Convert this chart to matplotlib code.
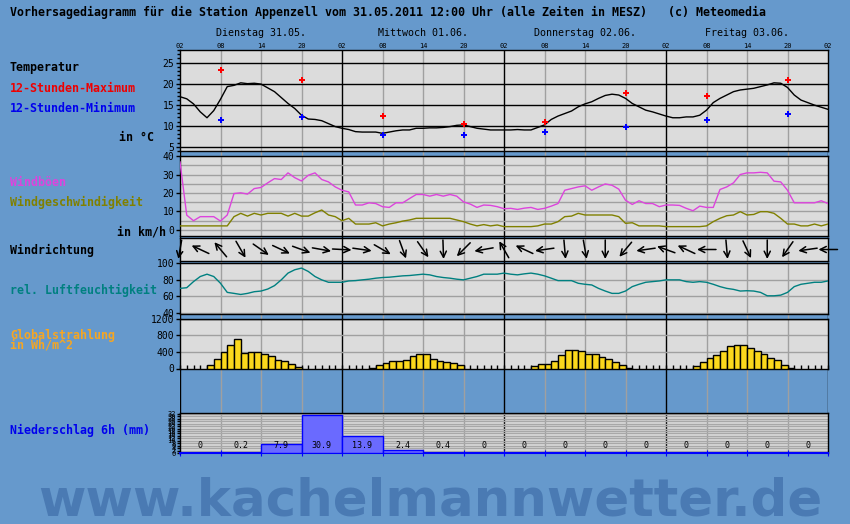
import numpy as np
import matplotlib
matplotlib.use('Agg')
import matplotlib.pyplot as plt
from matplotlib.ticker import MultipleLocator

plt.rcParams['font.family'] = 'DejaVu Sans Mono'

W, H = 850, 524
BG = '#6699cc'
PANEL = '#dcdcdc'
GRID = '#a0a0a0'

# time axis: hours since Tue 31.05. 02:00 MESZ
hours = np.arange(97)
hour_labels = ['02', '08', '14', '20'] * 4 + ['02']
days = ['Dienstag 31.05.', 'Mittwoch 01.06.', 'Donnerstag 02.06.', 'Freitag 03.06.']

temp = [16.9, 16.4, 15.2, 13.3, 11.9, 13.6, 16.3, 19.3, 19.6, 20.2, 20.0, 20.1, 19.9,
        19.0, 18.1, 16.7, 15.3, 14.1, 12.5, 11.6, 11.5, 11.2, 10.5, 9.8, 9.4, 9.1, 8.6,
        8.5, 8.5, 8.5, 8.2, 8.5, 8.8, 9.0, 9.0, 9.4, 9.4,
        9.5, 9.5, 9.6, 9.8, 10.1, 10.2, 9.8, 9.4, 9.2, 9.0, 9.0, 9.0, 9.0, 9.1, 9.0, 9.0,
        9.6, 10.2, 11.5, 12.3, 12.9, 13.5, 14.5, 15.2, 15.7, 16.5, 17.2, 17.5, 17.3, 16.5,
        15.3, 14.5, 13.7, 13.3, 12.8, 12.3, 11.9, 11.9, 12.1, 12.1, 12.5, 13.7, 15.5, 16.5,
        17.3, 18.1, 18.5, 18.7, 18.9, 19.3, 19.7, 20.2, 20.1, 19.1, 17.3, 16.1, 15.5, 14.9,
        14.4, 13.9]
ext_hours = [6, 18, 30, 42, 54, 66, 78, 90]
tmax = [23.2, 20.8, 12.4, 10.5, 10.8, 17.7, 17.0, 20.8]
tmin = [11.3, 12.0, 7.7, 7.7, 8.4, 9.6, 11.3, 12.7]

gust = [36.8, 8.0, 5.0, 7.2, 7.2, 7.2, 4.8, 8.1, 19.7, 20.1, 19.4, 22.4, 23.0, 25.5, 27.8,
        27.3, 30.9, 28.3, 26.5, 29.6, 30.9, 27.3, 26.0, 23.3, 21.5, 20.6, 13.5, 13.5, 14.7,
        14.3, 12.6, 12.2, 14.7, 14.7, 17.0, 19.2, 19.2,
        18.3, 19.2, 18.3, 19.2, 18.3, 15.2, 14.0, 12.2, 13.5, 13.3, 12.6, 11.5, 11.7, 11.1,
        11.8, 12.2, 11.1, 11.7, 12.9, 14.3, 21.5, 22.4, 23.3, 23.9, 21.5, 23.3, 24.9, 24.2,
        22.1, 16.1, 13.8, 15.8, 14.3, 14.3, 12.6, 13.5, 13.5, 13.3, 11.7, 10.4, 12.9, 12.2,
        12.2, 21.9, 23.3, 25.5, 30.0, 30.9, 30.9, 31.2, 30.9, 26.4, 26.0, 21.5, 14.7, 14.7,
        14.7, 14.7, 15.8, 14.3]
wind = [2.2, 2.2, 2.2, 2.2, 2.2, 2.2, 2.2, 2.2, 7.2, 9.0, 7.5, 9.0, 8.1, 9.0, 9.0, 9.0,
        7.5, 9.0, 7.5, 7.5, 9.3, 10.8, 8.1, 7.2, 5.0, 6.3, 3.2, 3.2, 3.2, 3.9, 2.2, 3.2,
        3.9, 4.8, 5.4, 6.3, 6.3,
        6.3, 6.3, 6.3, 6.3, 5.4, 4.5, 3.2, 2.2, 2.9, 2.2, 2.7, 1.8, 1.8, 1.8, 1.8, 1.8,
        2.2, 3.2, 3.2, 4.5, 7.2, 7.5, 9.0, 8.1, 8.1, 8.1, 8.1, 8.1, 7.2, 3.6, 3.9, 2.2,
        2.2, 2.2, 2.2, 1.8, 1.8, 1.8, 1.8, 1.8, 1.8, 2.2, 4.5, 6.3, 7.7, 8.1, 9.9, 8.1,
        8.4, 9.9, 9.9, 9.0, 6.3, 3.2, 3.2, 2.2, 2.2, 3.2, 2.2, 3.2]

# wind direction (degrees, where the wind comes from), every 3 hours
wdir_hours = np.arange(0, 97, 3)
wdir = [10, 115, 140, 330, 305, 295, 290, 280, 273, 278, 300, 340, 325, 358, 45, 80,
        150, 115, 82, 355, 350, 0, 40, 82, 110, 115, 90, 355, 335, 0, 35, 82, 90]

rh = [69.6, 70.4, 77.7, 83.8, 86.6, 83.8, 75.7, 64.8, 63.6, 62.3, 63.6, 65.6, 66.4, 68.8,
      72.9, 79.8, 87.9, 91.9, 93.9, 89.9, 83.8, 79.8, 76.9, 76.9, 76.9, 78.5, 78.9, 79.8,
      80.6, 81.8, 82.6, 83.0, 83.8, 84.6, 85.0, 85.8, 86.6,
      85.8, 83.8, 82.6, 81.8, 80.6, 79.8, 81.8, 83.8, 86.6, 86.6, 86.6, 87.9, 86.6, 85.8,
      87.0, 87.9, 86.6, 84.6, 81.8, 78.9, 78.9, 78.9, 75.7, 74.5, 73.7, 69.6, 66.4, 63.6,
      63.6, 66.4, 71.7, 74.5, 76.9, 77.7, 78.5, 79.8, 79.8, 79.8, 77.7, 76.9, 77.7, 76.9,
      74.5, 71.7, 69.6, 68.4, 66.4, 66.8, 66.4, 64.8, 60.7, 60.7, 61.5, 64.8, 71.7, 74.5,
      75.7, 76.9, 76.9, 78.5]

# global radiation, hourly (Wh/m^2), one list per day starting 02:00
rad = ([0] * 4 + [80, 240, 400, 576, 720, 384, 400, 400, 360, 312, 216, 176, 120, 48] + [0] * 6
       + [0] * 4 + [16, 80, 144, 176, 192, 216, 296, 360, 360, 240, 192, 160, 144, 80] + [0] * 6
       + [0] * 4 + [56, 120, 120, 192, 336, 456, 456, 432, 360, 360, 288, 240, 160, 96, 16] + [0] * 5
       + [0] * 4 + [56, 160, 264, 336, 432, 552, 576, 576, 504, 432, 360, 264, 216, 96, 24] + [0] * 5)

# 6h precipitation (mm)
precip = [0, 0.2, 7.9, 30.9, 13.9, 2.4, 0.4, 0, 0, 0, 0, 0, 0, 0, 0, 0]
precip_start = np.arange(0, 96, 6)

fig = plt.figure(figsize=(W / 100, H / 100), dpi=100, facecolor=BG)


def px_axes(x0, y0, x1, y1, **kw):
    return fig.add_axes([x0 / W, 1 - y1 / H, (x1 - x0) / W, (y1 - y0) / H], **kw)


def vlines(ax):
    for t in range(6, 96, 6):
        ax.axvline(t, color='k' if t % 24 == 0 else GRID, lw=1, zorder=1)


def style(ax, ylim, face=PANEL):
    ax.set_xlim(0, 96)
    ax.set_ylim(*ylim)
    ax.set_facecolor(face)
    ax.set_xticks([])
    for s in ax.spines.values():
        s.set_color('k')
        s.set_linewidth(1)
    vlines(ax)
    ax.tick_params(axis='y', labelsize=7, length=3, width=1, pad=1)


# background: vertical lines running through the gaps
bg = px_axes(180, 50, 828, 453.3, zorder=0)
bg.set_xlim(0, 96)
bg.set_ylim(0, 1)
bg.patch.set_visible(False)
bg.set_xticks([])
bg.set_yticks([])
for s in bg.spines.values():
    s.set_visible(False)
vlines(bg)
bg.axvline(0, color='k', lw=1)
bg.axvline(96, color='k', lw=1)

# temperature
tax = px_axes(180, 50, 828, 151)
style(tax, (4, 28))
tax.set_yticks([5, 10, 15, 20, 25])
tax.yaxis.set_minor_locator(MultipleLocator(1))
tax.tick_params(axis='y', which='minor', length=2, width=1)
for v in [5, 10, 15, 20, 25]:
    tax.axhline(v, color='k', lw=1, zorder=1)
tax.plot(hours, temp, color='k', lw=1, zorder=3)
tax.plot(ext_hours, tmax, 'P', color='#ff0000', ms=5, mew=0, zorder=4)
tax.plot(ext_hours, tmin, 'P', color='#0000ff', ms=5, mew=0, zorder=4)
tax.set_xticks(range(0, 97, 6))
tax.set_xticklabels(hour_labels)
tax.xaxis.tick_top()
tax.tick_params(axis='x', length=0, labelsize=5, pad=1)

# wind
wax = px_axes(180, 155.5, 828, 235.5)
style(wax, (-3, 40.3))
wax.set_yticks([0, 10, 20, 30, 40])
for v in range(0, 41, 5):
    wax.axhline(v, color=GRID, lw=1, zorder=1)
wax.plot(hours, gust, color='#dd44dd', lw=1, zorder=3)
wax.plot(hours, wind, color='#808000', lw=1, zorder=3)

# wind direction arrows
dax = px_axes(180, 238, 828, 261)
style(dax, (0, 1))
dax.set_yticks([])
L = 9.5  # half arrow length in pixels
for t, d in zip(wdir_hours, wdir):
    ang = np.radians(-90 - d)
    dx = L * np.cos(ang) / 6.75
    dy = L * np.sin(ang) / 23
    dax.annotate('', xy=(t + dx, 0.5 + dy), xytext=(t - dx, 0.5 - dy),
                 arrowprops=dict(arrowstyle='->', lw=1.1, color='k', mutation_scale=11,
                                 shrinkA=0, shrinkB=0),
                 annotation_clip=False, zorder=4)

# relative humidity
hax = px_axes(180, 263, 828, 313.5)
style(hax, (39.5, 100))
hax.set_yticks([40, 60, 80, 100])
for v in [40, 60, 80]:
    hax.axhline(v, color=GRID, lw=1, zorder=1)
hax.axhline(100, color='k', lw=1.5, zorder=1)
hax.plot(hours, rh, color='#008080', lw=1, zorder=3)

# global radiation
rax = px_axes(180, 318.5, 828, 368.5)
style(rax, (0, 1210))
rax.set_yticks([0, 400, 800, 1200])
for v in [400, 800]:
    rax.axhline(v, color=GRID, lw=1, zorder=1)
rax.axhline(1200, color='k', lw=1, zorder=1)
rad_h = [h for h, v in zip(hours, rad) if v > 0]
rad_v = [v for v in rad if v > 0]
rax.bar(rad_h, rad_v, width=1, align='edge', color='#fcd81c', edgecolor='k', lw=1, zorder=3)
rax.set_xticks(range(0, 97), minor=True)
rax.tick_params(axis='x', which='minor', direction='in', length=3, width=1, bottom=True)

# precipitation
pax = px_axes(180, 413.3, 828, 453.3)
style(pax, (0, 32.3))
pax.set_yticks(range(0, 33, 2))
pax.tick_params(axis='y', labelsize=5, length=2, pad=1)
for v in range(2, 33, 2):
    pax.axhline(v, color='#a8a8a8', lw=1, zorder=1)
pax.bar(precip_start, precip, width=6, align='edge', color='#6a6aff',
        edgecolor='#0000ff', lw=1, zorder=3)
for t, p in zip(precip_start, precip):
    pax.text(t + 3, 6.5, '0' if p == 0 else '%.1f' % p, ha='center', va='center',
             fontsize=6, zorder=5)
pax.spines['bottom'].set_color('#0000ff')
pax.spines['bottom'].set_linewidth(1.5)
pax.set_xticks(range(0, 97, 6))
pax.tick_params(axis='x', direction='inout', length=4, color='#0000ff', labelbottom=False)


def ftext(x, y, s, **kw):
    fig.text(x / W, 1 - y / H, s, va='center', **kw)


ftext(10, 12, 'Vorhersagediagramm für die Station Appenzell vom 31.05.2011 12:00 Uhr '
      '(alle Zeiten in MESZ)   (c) Meteomedia', fontsize=8.4, fontweight='bold')
for i, d in enumerate(days):
    ftext(180 + 6.75 * (12 + 24 * i), 33, d, fontsize=7.2, ha='center')

bold = dict(fontsize=8.4, fontweight='bold')
ftext(10, 67, 'Temperatur', color='k', **bold)
ftext(10, 88, '12-Stunden-Maximum', color='#ee0000', **bold)
ftext(10, 108, '12-Stunden-Minimum', color='#0000ee', **bold)
ftext(154, 137, 'in °C', color='k', ha='right', **bold)
ftext(10, 182, 'Windböen', color='#dd44dd', **bold)
ftext(10, 202, 'Windgeschwindigkeit', color='#808000', **bold)
ftext(166, 232, 'in km/h', color='k', ha='right', **bold)
ftext(10, 250, 'Windrichtung', color='k', **bold)
ftext(10, 290, 'rel. Luftfeuchtigkeit', color='#008080', **bold)
ftext(10, 335, 'Globalstrahlung', color='#f5a623', **bold)
ftext(10, 345, 'in Wh/m^2', color='#f5a623', **bold)
ftext(10, 430, 'Niederschlag 6h (mm)', color='#0000ee', **bold)

fig.text(430 / W, 1 - 516 / H, 'www.kachelmannwetter.de', family='DejaVu Sans',
         fontsize=37, fontweight='bold', color='#4a7ab3', ha='center', va='baseline')

fig.savefig('out.png', dpi=100, facecolor=BG)
